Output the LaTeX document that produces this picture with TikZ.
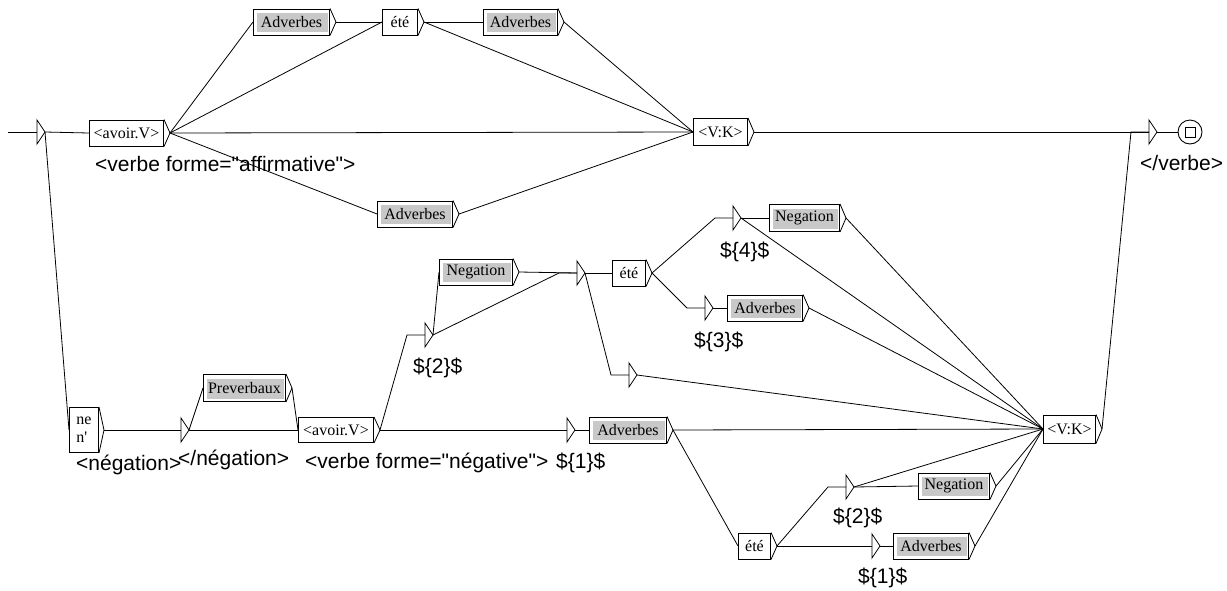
\documentclass[tikz,border=0pt]{standalone}
\usepackage{fontspec}
\setmainfont{Liberation Serif}
\newfontfamily\serifnotex[Ligatures=TeXOff]{Liberation Serif}
\newfontfamily\labfont{Liberation Sans}
\usetikzlibrary{calc}
\definecolor{boxgray}{RGB}{200,200,200}
\newcommand\bxfont{\fontsize{16}{18}\selectfont}
\newcommand\lbfont{\labfont\fontsize{21}{22}\selectfont}
\tikzset{
  ln/.style={line width=0.8pt},
  ubox/.style={draw, line width=1pt, fill=white, inner sep=0pt, font=\bxfont},
  grayfill/.style={path picture={\fill[boxgray] ([xshift=3pt,yshift=-4pt]path picture bounding box.north west) rectangle ([xshift=-2pt,yshift=3pt]path picture bounding box.south east);}},
  plainbox/.style={},
  lbl/.style={font=\lbfont, inner sep=0pt, anchor=base west}
}
% box: name, left x, width, centre y, height, style, text
\newcommand\ubx[7]{%
  \node[ubox,#6,minimum width=#3pt,minimum height=#5pt,anchor=west] (#1) at (#2,#4) {#7};
  \draw[ln] (#1.north east) -- ($(#1.east)+(6,0)$) coordinate (#1-o) -- (#1.south east);}
% epsilon triangle: name, x, y
\newcommand\eps[3]{%
  \coordinate (#1) at (#2,#3);
  \coordinate (#1-s) at ($(#1)+(-18,0)$);
  \coordinate (#1-o) at ($(#1)+(8,0)$);
  \draw[ln,fill=white] ($(#1)+(0,-12)$) -- (#1-o) -- ($(#1)+(0,12)$) -- cycle;}
\begin{document}
\begin{tikzpicture}[x=1pt,y=-1pt]
\useasboundingbox (0,0) rectangle (1227,590);
% ---------- nodes ----------
\coordinate (start) at (8,132);
\eps{t0}{37}{132}
\ubx{av1}{89}{74}{133}{26}{plainbox}{<avoir.V>}
\ubx{adv1}{253}{76}{22}{26}{grayfill}{Adverbes}
\ubx{ete1}{382}{35}{22}{26}{plainbox}{été}
\ubx{adv2}{483}{74}{22}{26}{grayfill}{Adverbes}
\ubx{adv3}{377}{75}{214}{26}{grayfill}{Adverbes}
\ubx{vk1}{693}{54}{132}{27}{plainbox}{<V:K>}
\eps{tend}{1149}{132}
\node[circle,draw,line width=0.9pt,minimum size=24pt,inner sep=0pt] (fin) at (1190,132) {};
\draw[ln] ($(fin.center)+(-5,-5)$) rectangle ($(fin.center)+(5,5)$);

\node[ubox,minimum width=29pt,minimum height=45pt,anchor=west,align=left,font=\serifnotex\bxfont] (ne) at (69,430) {ne\\n'};
\draw[ln] (ne.north east) -- ($(ne.east)+(5,0)$) coordinate (ne-o) -- (ne.south east);
\eps{tneg}{181}{430}
\ubx{prev}{203}{82}{388}{27}{grayfill}{Preverbaux}
\ubx{av2}{298}{75}{430}{25}{plainbox}{<avoir.V>}
\eps{t2}{425}{335}
\ubx{neg1}{439}{73}{272}{26}{grayfill}{Negation}
\eps{t5}{577}{273}
\ubx{ete2}{612}{33}{273}{26}{plainbox}{été}
\eps{t4}{733}{218}
\ubx{neg2}{769}{70}{218}{27}{grayfill}{Negation}
\eps{t3}{705}{308}
\ubx{adv4}{727}{75}{308}{26}{grayfill}{Adverbes}
\eps{t6}{629}{375}
\eps{t1}{567}{430}
\ubx{adv5}{589}{77}{430}{26}{grayfill}{Adverbes}
\ubx{vk2}{1043}{52}{429}{28}{plainbox}{<V:K>}
\ubx{ete3}{738}{32}{546}{26}{plainbox}{été}
\eps{t2b}{846}{487}
\ubx{neg3}{918}{71}{486}{26}{grayfill}{Negation}
\eps{t1b}{872}{546}
\ubx{adv6}{893}{75}{546}{26}{grayfill}{Adverbes}

% ---------- labels ----------
\node[lbl] (l-aff) at (95,171) {<verbe forme="affirmative">};
\node[lbl] (l-verbe) at (1140,170) {</verbe>};
\node[lbl] (l-neg) at (76,470) {<négation>};
\node[lbl] (l-eneg) at (178,465) {</négation>};
\node[lbl] (l-negv) at (305,468) {<verbe forme="négative">};
\node[lbl] (l-1) at (556,468) {\$\{1\}\$};
\node[lbl] (l-2) at (413,373) {\$\{2\}\$};
\node[lbl] (l-4) at (720,257) {\$\{4\}\$};
\node[lbl] (l-3) at (694,347) {\$\{3\}\$};
\node[lbl] (l-2b) at (833,523) {\$\{2\}\$};
\node[lbl] (l-1b) at (858,583) {\$\{1\}\$};

% ---------- connectors ----------
\draw[ln] (start) -- (t0);
\draw[ln] (t0-o) -- (av1.west);
\draw[ln] (t0-o) -- (ne.west);
\draw[ln] (av1-o) -- (adv1.west);
\draw[ln] (av1-o) -- (ete1.west);
\draw[ln] (av1-o) -- (vk1.west);
\draw[ln] (av1-o) -- (adv3.west);
\draw[ln] (adv1-o) -- (ete1.west);
\draw[ln] (ete1-o) -- (adv2.west);
\draw[ln] (ete1-o) -- (vk1.west);
\draw[ln] (adv2-o) -- (vk1.west);
\draw[ln] (adv3-o) -- (vk1.west);
\draw[ln] (vk1-o) -- (tend);
\draw[ln] (tend-o) -- (fin.west);

\draw[ln] (ne-o) -- (tneg);
\draw[ln] (tneg-o) -- (prev.west);
\draw[ln] (tneg-o) -- (av2.west);
\draw[ln] (prev-o) -- (av2.west);
\draw[ln] (av2-o) -- (t2-s) -- (t2);
\draw[ln] (av2-o) -- (t1);
\draw[ln] (t2-o) -- (neg1.west);
\draw[ln] (t2-o) -- (t5-s) -- (t5);
\draw[ln] (neg1-o) -- (t5);
\draw[ln] (t5-o) -- (ete2.west);
\draw[ln] (t5-o) -- (t6-s) -- (t6);
\draw[ln] (ete2-o) -- (t4-s) -- (t4);
\draw[ln] (ete2-o) -- (t3-s) -- (t3);
\draw[ln] (t4-o) -- (neg2.west);
\draw[ln] (t4-o) -- (vk2.west);
\draw[ln] (neg2-o) -- (vk2.west);
\draw[ln] (t3-o) -- (adv4.west);
\draw[ln] (adv4-o) -- (vk2.west);
\draw[ln] (t6-o) -- (vk2.west);
\draw[ln] (t1-o) -- (adv5.west);
\draw[ln] (adv5-o) -- (vk2.west);
\draw[ln] (adv5-o) -- (ete3.west);
\draw[ln] (ete3-o) -- (t2b-s) -- (t2b);
\draw[ln] (ete3-o) -- (t1b);
\draw[ln] (t2b-o) -- (neg3.west);
\draw[ln] (t2b-o) -- (vk2.west);
\draw[ln] (neg3-o) -- (vk2.west);
\draw[ln] (t1b-o) -- (adv6.west);
\draw[ln] (adv6-o) -- (vk2.west);
\draw[ln] (vk2-o) -- (tend-s) -- (tend);
\end{tikzpicture}
\end{document}
